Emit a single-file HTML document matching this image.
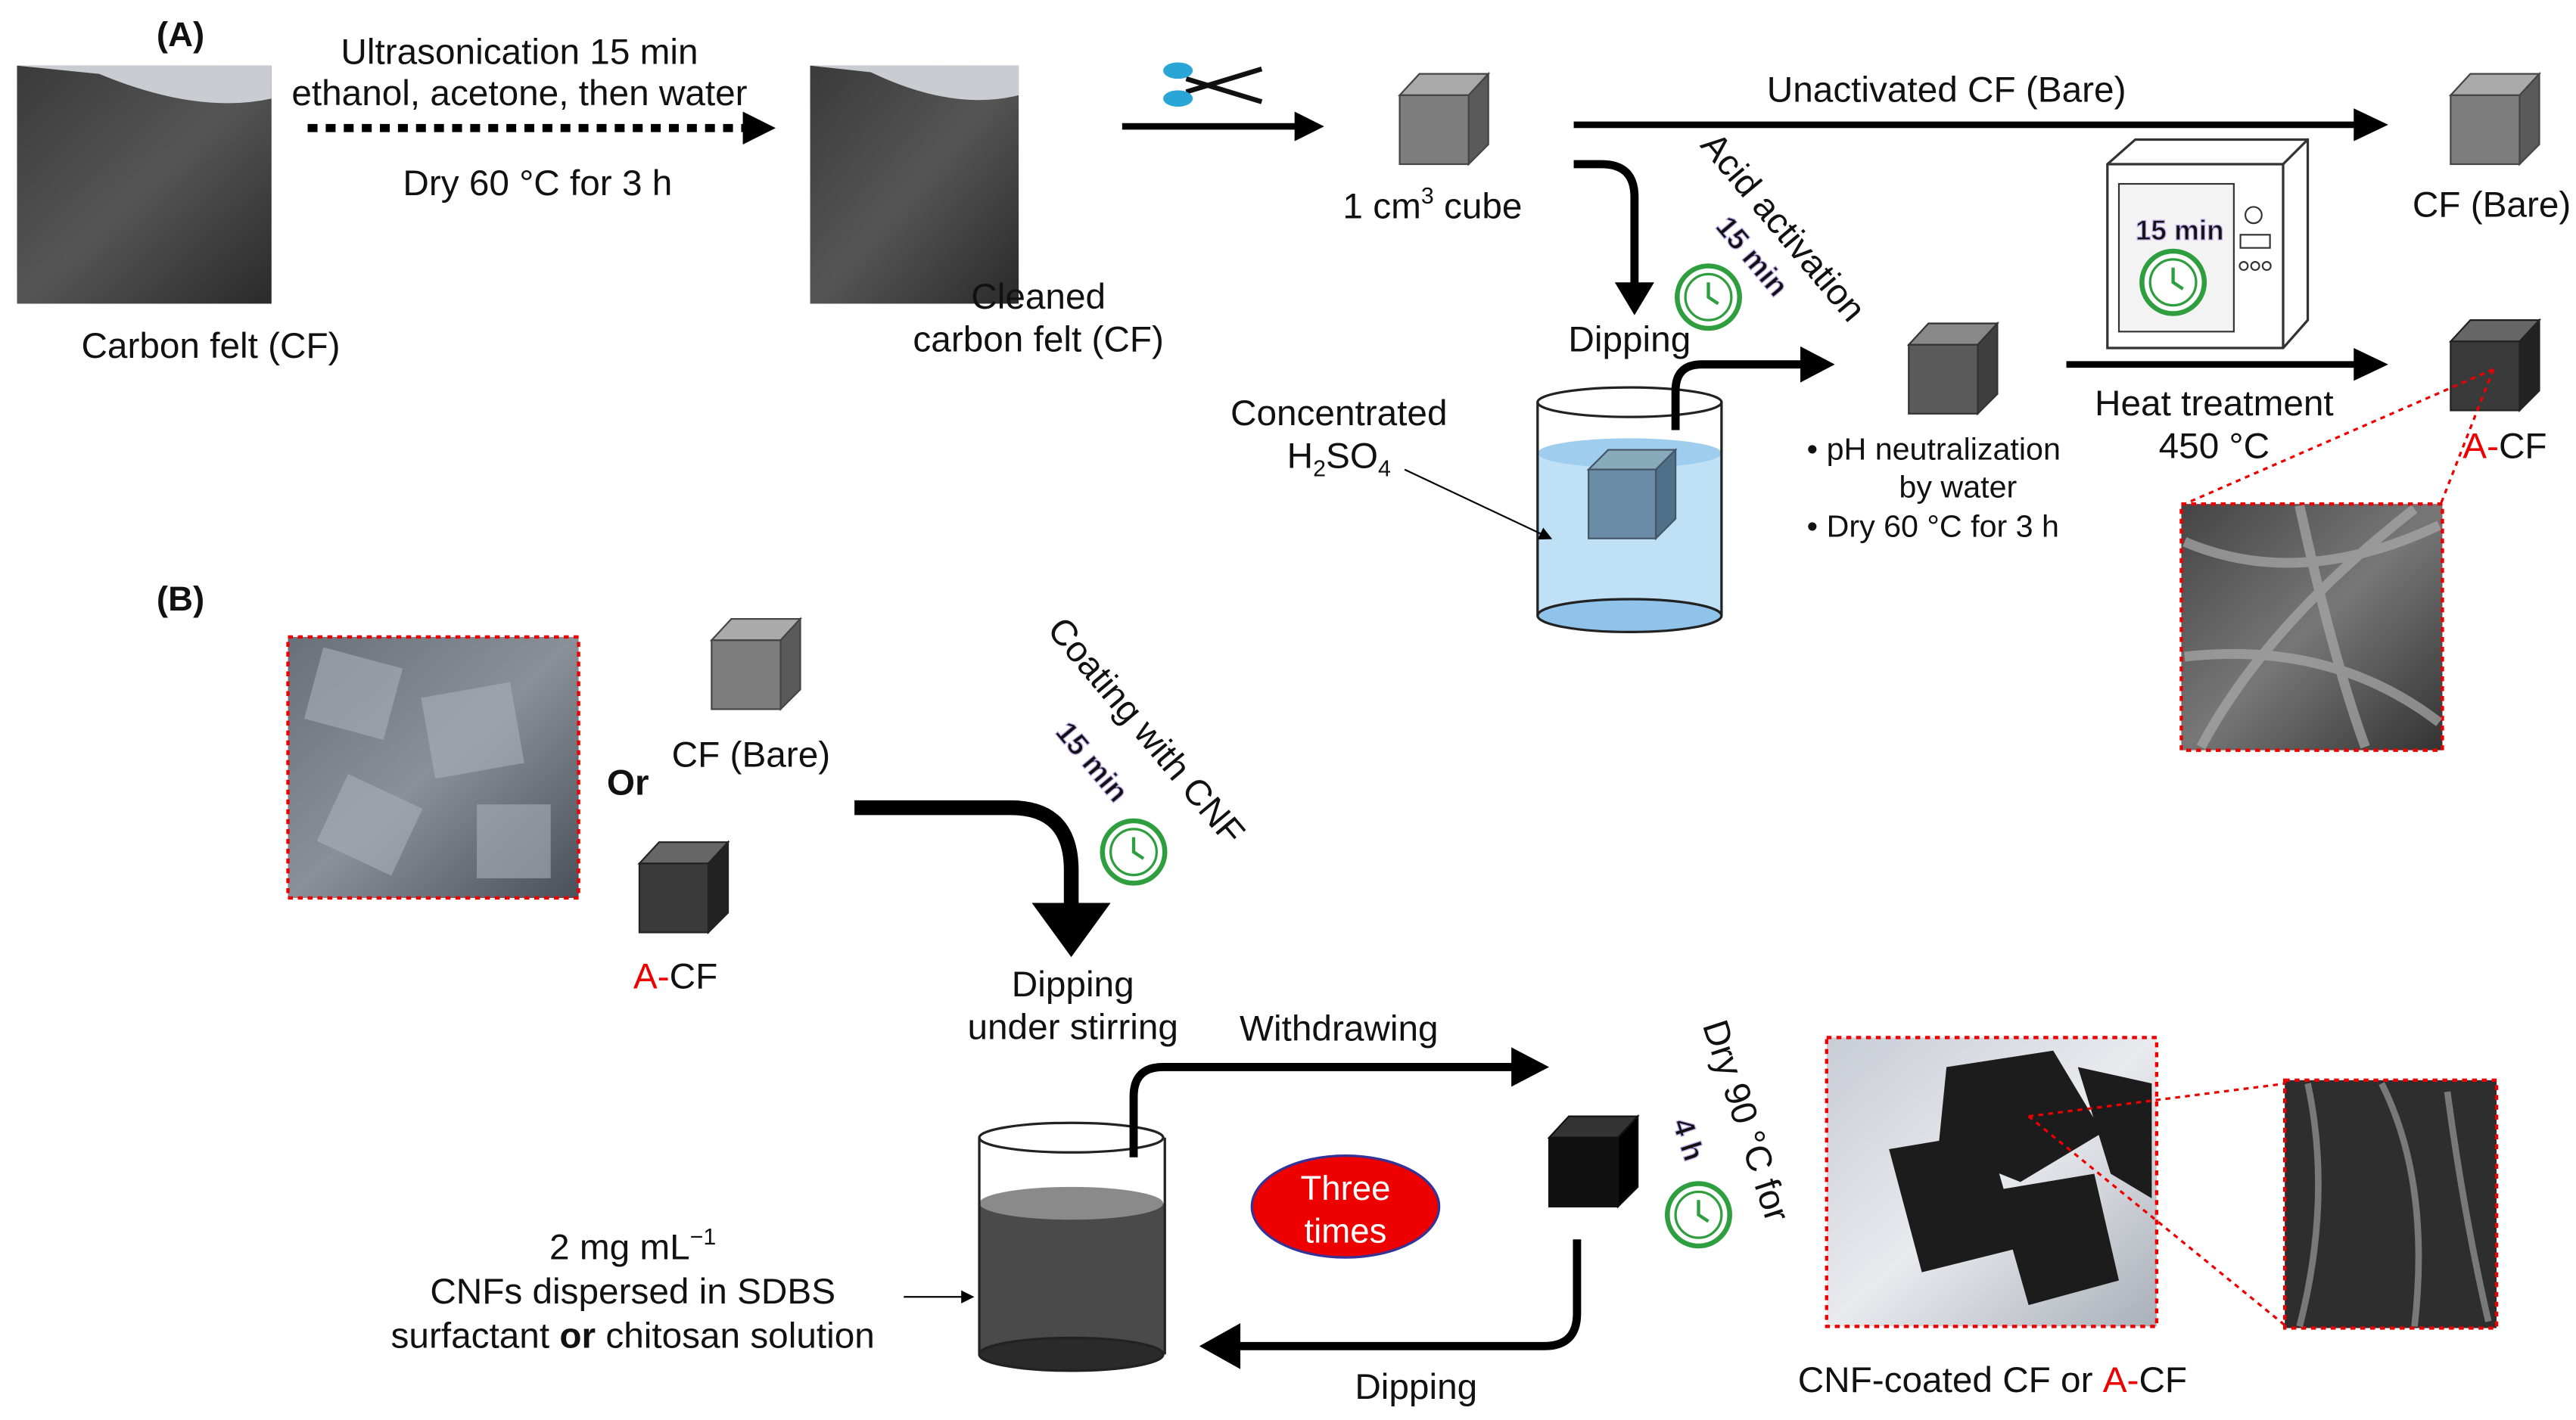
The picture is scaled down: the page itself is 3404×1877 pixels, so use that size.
<!DOCTYPE html>
<html><head><meta charset="utf-8"><style>
html,body{margin:0;padding:0;background:#fff;}
svg{display:block;}
text{font-family:"Liberation Sans",Arial,sans-serif;fill:#111;}
</style></head><body>
<svg width="3404" height="1877" viewBox="0 0 1568 865" xmlns="http://www.w3.org/2000/svg">
<defs>
<marker id="ahs" markerWidth="8" markerHeight="8" refX="7" refY="4" orient="auto" markerUnits="userSpaceOnUse"><path d="M0,0 L8,4 L0,8 z" fill="#000"/></marker>
<linearGradient id="felt" x1="0" y1="0" x2="1" y2="1"><stop offset="0" stop-color="#3a3a3a"/><stop offset="0.5" stop-color="#555"/><stop offset="1" stop-color="#2a2a2a"/></linearGradient>
<linearGradient id="rock" x1="0" y1="0" x2="1" y2="1"><stop offset="0" stop-color="#6a7078"/><stop offset="0.5" stop-color="#8a9098"/><stop offset="1" stop-color="#4a5058"/></linearGradient>
<linearGradient id="sem" x1="0" y1="0" x2="1" y2="1"><stop offset="0" stop-color="#444"/><stop offset="0.5" stop-color="#777"/><stop offset="1" stop-color="#333"/></linearGradient>
<linearGradient id="foil" x1="0" y1="0" x2="1" y2="1"><stop offset="0" stop-color="#c8ccd4"/><stop offset="0.5" stop-color="#e8eaee"/><stop offset="1" stop-color="#aab0b8"/></linearGradient>
<g id="clock"><circle r="19" fill="#fff" stroke="#2e9e3e" stroke-width="3"/><circle r="14" fill="none" stroke="#2e9e3e" stroke-width="1.5"/><path d="M0,-9 L0,0 L6,4" stroke="#2e9e3e" stroke-width="2" fill="none"/></g>
</defs>

<text x="95" y="28" font-size="21" font-weight="bold">(A)</text>
<rect x="10" y="40" width="155" height="145" fill="url(#felt)"/>
<path d="M10,40 L165,40 L165,60 Q120,70 60,45 Z" fill="#c9cdd2"/>
<text x="128" y="218" font-size="22" text-anchor="middle">Carbon felt (CF)</text>

<line x1="187" y1="78" x2="455" y2="78" stroke="#000" stroke-width="5" stroke-dasharray="6,5"/>
<path d="M452,68 L472,78 L452,88 z"/>
<text x="316" y="39" font-size="22" text-anchor="middle">Ultrasonication 15 min</text>
<text x="316" y="64" font-size="22" text-anchor="middle">ethanol, acetone, then water</text>
<text x="327" y="119" font-size="22" text-anchor="middle">Dry 60 °C for 3 h</text>

<rect x="493" y="40" width="127" height="145" fill="url(#felt)"/>
<path d="M493,40 L620,40 L620,58 Q580,68 530,44 Z" fill="#c9cdd2"/>
<text x="632" y="188" font-size="22" text-anchor="middle">Cleaned</text>
<text x="632" y="214" font-size="22" text-anchor="middle">carbon felt (CF)</text>

<g stroke="#111" stroke-width="3" fill="none"><line x1="722" y1="48" x2="768" y2="62"/><line x1="722" y1="56" x2="768" y2="42"/></g>
<ellipse cx="717" cy="43" rx="9" ry="5" fill="#2aa6d6"/><ellipse cx="717" cy="60" rx="9" ry="5" fill="#2aa6d6"/>
<line x1="683" y1="77" x2="790" y2="77" stroke="#000" stroke-width="4"/><path d="M788,68 L806,77 L788,86 z"/>

<g id="cubeG"><path d="M852,58 L864,45 L906,45 L894,58 Z" fill="#aaa" stroke="#444"/><path d="M894,58 L906,45 L906,88 L894,100 Z" fill="#5a5a5a" stroke="#444"/><rect x="852" y="58" width="42" height="42" fill="#7d7d7d" stroke="#444"/></g>
<text x="872" y="133" font-size="22" text-anchor="middle">1 cm<tspan font-size="14" dy="-9">3</tspan><tspan dy="9"> cube</tspan></text>

<line x1="958" y1="76" x2="1435" y2="76" stroke="#000" stroke-width="4"/><path d="M1433,66 L1454,76 L1433,86 z"/>
<text x="1185" y="62" font-size="22" text-anchor="middle">Unactivated CF (Bare)</text>
<use href="#cubeG" transform="translate(640,0)"/>
<text x="1517" y="132" font-size="22" text-anchor="middle">CF (Bare)</text>

<path d="M958,100 L975,100 Q995,100 995,120 L995,175" stroke="#000" stroke-width="5" fill="none"/><path d="M983,172 L995,192 L1007,172 z"/>
<text x="992" y="214" font-size="22" text-anchor="middle">Dipping</text>
<text transform="translate(1080,143) rotate(50)" font-size="22" text-anchor="middle">Acid activation</text>
<text transform="translate(1062,160) rotate(50)" font-size="18" font-weight="bold" fill="#222" text-anchor="middle" stroke="#b8a8e8" stroke-width="0.6">15 min</text>
<use href="#clock" x="1040" y="181"/>

<rect x="936" y="276" width="112" height="100" fill="#bfe0f5"/>
<ellipse cx="992" cy="276" rx="56" ry="9" fill="#9fcdee"/>
<ellipse cx="992" cy="375" rx="56" ry="10" fill="#8fc3ea" stroke="#222" stroke-width="1.5"/>
<path d="M936,245 L936,375 M1048,245 L1048,375" stroke="#222" stroke-width="1.5"/>
<ellipse cx="992" cy="245" rx="56" ry="9" fill="none" stroke="#222" stroke-width="1.5"/>
<path d="M967,286 L979,274 L1020,274 L1008,286 Z" fill="#8ab" stroke="#456"/><path d="M1008,286 L1020,274 L1020,316 L1008,328 Z" fill="#4f7088" stroke="#456"/><rect x="967" y="286" width="41" height="42" fill="#6a8ca6" stroke="#456"/>
<path d="M1020,262 L1020,238 Q1020,222 1036,222 L1098,222" stroke="#000" stroke-width="5" fill="none"/><path d="M1096,211 L1117,222 L1096,233 z"/>
<text x="815" y="259" font-size="22" text-anchor="middle">Concentrated</text>
<text x="815" y="285" font-size="22" text-anchor="middle">H<tspan font-size="14" dy="5">2</tspan><tspan dy="-5">SO</tspan><tspan font-size="14" dy="5">4</tspan></text>
<line x1="855" y1="286" x2="944" y2="328" stroke="#000" stroke-width="1" marker-end="url(#ahs)"/>

<g transform="translate(310,152)"><path d="M852,58 L864,45 L906,45 L894,58 Z" fill="#888" stroke="#333"/><path d="M894,58 L906,45 L906,88 L894,100 Z" fill="#3e3e3e" stroke="#333"/><rect x="852" y="58" width="42" height="42" fill="#5a5a5a" stroke="#333"/></g>
<text x="1100" y="280" font-size="19">•  pH neutralization</text>
<text x="1192" y="303" font-size="19" text-anchor="middle">by water</text>
<text x="1100" y="327" font-size="19">•  Dry 60 °C for 3 h</text>

<path d="M1283,100 L1300,85 L1405,85 L1405,195 L1390,212 L1283,212 Z" fill="#fff" stroke="#333" stroke-width="1.5"/>
<line x1="1283" y1="100" x2="1390" y2="100" stroke="#333" stroke-width="1.5"/><line x1="1390" y1="100" x2="1405" y2="85" stroke="#333" stroke-width="1.5"/><line x1="1390" y1="100" x2="1390" y2="212" stroke="#333" stroke-width="1.5"/>
<rect x="1290" y="112" width="70" height="90" fill="#f3f3f3" stroke="#333"/>
<circle cx="1372" cy="131" r="5" fill="none" stroke="#333"/><rect x="1364" y="143" width="18" height="8" fill="none" stroke="#333"/>
<circle cx="1366" cy="162" r="2.5" fill="none" stroke="#333"/><circle cx="1373" cy="162" r="2.5" fill="none" stroke="#333"/><circle cx="1380" cy="162" r="2.5" fill="none" stroke="#333"/>
<text x="1327" y="146" font-size="17" font-weight="bold" text-anchor="middle" stroke="#b8a8e8" stroke-width="0.6">15 min</text>
<use href="#clock" x="1323" y="172"/>
<line x1="1258" y1="222" x2="1435" y2="222" stroke="#000" stroke-width="4"/><path d="M1433,212 L1454,222 L1433,232 z"/>
<text x="1348" y="253" font-size="22" text-anchor="middle">Heat treatment</text>
<text x="1348" y="279" font-size="22" text-anchor="middle">450 °C</text>
<g transform="translate(640,150)"><path d="M852,58 L864,45 L906,45 L894,58 Z" fill="#666" stroke="#222"/><path d="M894,58 L906,45 L906,88 L894,100 Z" fill="#222" stroke="#222"/><rect x="852" y="58" width="42" height="42" fill="#3a3a3a" stroke="#222"/></g>
<text x="1525" y="279" font-size="22" text-anchor="middle"><tspan fill="#e00">A-</tspan>CF</text>
<line x1="1518" y1="225" x2="1330" y2="307" stroke="#e00" stroke-width="1.5" stroke-dasharray="3,3"/>
<line x1="1518" y1="225" x2="1486" y2="307" stroke="#e00" stroke-width="1.5" stroke-dasharray="3,3"/>
<rect x="1328" y="307" width="159" height="150" fill="url(#sem)" stroke="#e00" stroke-width="2" stroke-dasharray="3,3"/>
<g stroke="#aaa" stroke-width="6" fill="none" opacity="0.7"><path d="M1330,330 Q1400,360 1485,320"/><path d="M1340,455 Q1380,380 1470,310"/><path d="M1330,400 Q1420,390 1485,440"/><path d="M1400,308 Q1420,400 1440,455"/></g>

<text x="95" y="372" font-size="21" font-weight="bold">(B)</text>
<rect x="175" y="388" width="177" height="159" fill="url(#rock)" stroke="#e00" stroke-width="2" stroke-dasharray="3,3"/>
<g fill="#aab0b8" opacity="0.6"><rect x="190" y="400" width="50" height="45" transform="rotate(15 215 422)"/><rect x="260" y="420" width="55" height="50" transform="rotate(-10 287 445)"/><rect x="200" y="480" width="50" height="45" transform="rotate(25 225 502)"/><rect x="290" y="490" width="45" height="45"/></g>
<use href="#cubeG" transform="translate(-419,332)"/>
<text x="457" y="467" font-size="22" text-anchor="middle">CF (Bare)</text>
<text x="382" y="484" font-size="22" font-weight="bold" text-anchor="middle">Or</text>
<g transform="translate(-463,468)"><path d="M852,58 L864,45 L906,45 L894,58 Z" fill="#666" stroke="#222"/><path d="M894,58 L906,45 L906,88 L894,100 Z" fill="#222" stroke="#222"/><rect x="852" y="58" width="42" height="42" fill="#3a3a3a" stroke="#222"/></g>
<text x="411" y="602" font-size="22" text-anchor="middle"><tspan fill="#e00">A-</tspan>CF</text>

<path d="M520,492 L615,492 Q652,492 652,530 L652,555" stroke="#000" stroke-width="9" fill="none"/><path d="M628,550 L652,583 L676,550 z"/>
<text transform="translate(692,450) rotate(50)" font-size="22" text-anchor="middle">Coating with CNF</text>
<text transform="translate(660,468) rotate(50)" font-size="18" font-weight="bold" text-anchor="middle" stroke="#b8a8e8" stroke-width="0.6">15 min</text>
<use href="#clock" x="690" y="519"/>
<text x="653" y="607" font-size="22" text-anchor="middle">Dipping</text>
<text x="653" y="633" font-size="22" text-anchor="middle">under stirring</text>

<rect x="596" y="733" width="113" height="92" fill="#4a4a4a"/>
<ellipse cx="652" cy="733" rx="56" ry="10" fill="#8a8a8a"/>
<ellipse cx="652" cy="825" rx="56" ry="10" fill="#2a2a2a" stroke="#222" stroke-width="1.5"/>
<path d="M596,693 L596,825 M709,693 L709,825" stroke="#222" stroke-width="1.5"/>
<ellipse cx="652" cy="693" rx="56" ry="9" fill="none" stroke="#222" stroke-width="1.5"/>
<path d="M690,705 L690,668 Q690,650 708,650 L922,650" stroke="#000" stroke-width="5" fill="none"/><path d="M920,638 L943,650 L920,662 z"/>
<text x="815" y="634" font-size="22" text-anchor="middle">Withdrawing</text>
<ellipse cx="819" cy="735" rx="57" ry="31" fill="#e00" stroke="#339" stroke-width="1.5"/>
<text x="819" y="731" font-size="21" text-anchor="middle" style="fill:#fff">Three</text>
<text x="819" y="757" font-size="21" text-anchor="middle" style="fill:#fff">times</text>

<g transform="translate(91,635)"><path d="M852,58 L864,45 L906,45 L894,58 Z" fill="#333" stroke="#111"/><path d="M894,58 L906,45 L906,88 L894,100 Z" fill="#000" stroke="#111"/><rect x="852" y="58" width="42" height="42" fill="#111" stroke="#111"/></g>
<path d="M960,755 L960,800 Q960,820 940,820 L752,820" stroke="#000" stroke-width="5" fill="none"/><path d="M755,806 L730,820 L755,834 z"/>
<text x="862" y="852" font-size="22" text-anchor="middle">Dipping</text>
<text transform="translate(1056,685) rotate(72)" font-size="22" text-anchor="middle">Dry 90 °C for</text>
<text transform="translate(1022,696) rotate(72)" font-size="18" font-weight="bold" text-anchor="middle" stroke="#b8a8e8" stroke-width="0.6">4 h</text>
<use href="#clock" x="1034" y="740"/>

<text x="385" y="767" font-size="22" text-anchor="middle">2 mg mL<tspan font-size="14" dy="-9">−1</tspan></text>
<text x="385" y="794" font-size="22" text-anchor="middle">CNFs dispersed in SDBS</text>
<text x="385" y="821" font-size="22" text-anchor="middle">surfactant <tspan font-weight="bold">or</tspan> chitosan solution</text>
<line x1="550" y1="790" x2="592" y2="790" stroke="#000" stroke-width="1" marker-end="url(#ahs)"/>

<rect x="1112" y="632" width="201" height="176" fill="url(#foil)" stroke="#e00" stroke-width="2" stroke-dasharray="3,3"/>
<g fill="#1c1c1c"><path d="M1185,650 L1250,640 L1280,690 L1230,720 L1180,700 Z"/><path d="M1150,700 L1210,690 L1230,760 L1170,775 Z"/><path d="M1215,725 L1275,715 L1290,780 L1235,795 Z"/><path d="M1265,650 L1310,660 L1310,730 L1285,715 Z"/></g>
<text x="1213" y="848" font-size="22" text-anchor="middle">CNF-coated CF or <tspan fill="#e00">A-</tspan>CF</text>
<line x1="1235" y1="680" x2="1392" y2="660" stroke="#e00" stroke-width="1.5" stroke-dasharray="3,3"/>
<line x1="1235" y1="680" x2="1392" y2="808" stroke="#e00" stroke-width="1.5" stroke-dasharray="3,3"/>
<rect x="1391" y="658" width="129" height="151" fill="#2e2e2e" stroke="#e00" stroke-width="2" stroke-dasharray="3,3"/>
<g stroke="#999" stroke-width="4" fill="none" opacity="0.7"><path d="M1405,660 Q1420,730 1400,808"/><path d="M1450,660 Q1480,720 1470,808"/><path d="M1490,665 Q1500,740 1515,805"/></g>
</svg>
</body></html>
